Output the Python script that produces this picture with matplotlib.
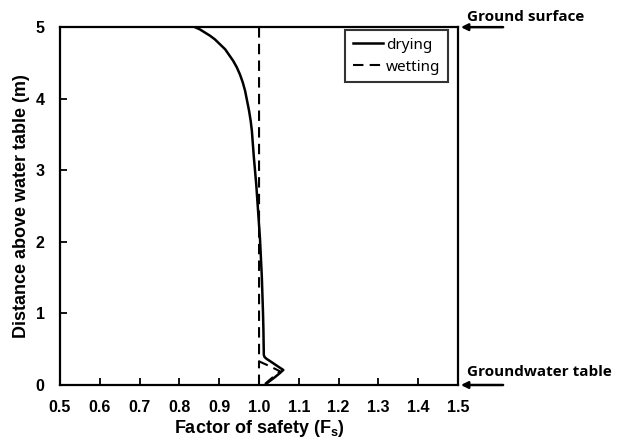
import matplotlib
matplotlib.use("Agg")
import matplotlib.pyplot as plt
import numpy as np

# Drying curve (factor of safety vs distance above water table)
dry_fs = [0.839, 0.851, 0.864, 0.877, 0.889, 0.902, 0.915, 0.925, 0.935, 0.944, 0.952, 0.959,
          0.965, 0.970, 0.975, 0.979, 0.982, 0.987, 0.993, 0.998, 1.0025, 1.007, 1.010, 1.011,
          1.012, 1.014, 1.019, 1.026, 1.034, 1.046, 1.061, 1.052, 1.040, 1.028, 1.020, 1.015]
dry_z  = [5.00, 4.97, 4.925, 4.88, 4.83, 4.76, 4.69, 4.61, 4.53, 4.44, 4.34, 4.23,
          4.11, 3.97, 3.83, 3.69, 3.55, 3.18, 2.80, 2.40, 2.03, 1.51, 1.00, 0.77,
          0.42, 0.39, 0.365, 0.34, 0.31, 0.265, 0.21, 0.165, 0.11, 0.06, 0.025, 0.0]

# Wetting curve
wet_fs = [1.0, 1.0, 1.0, 1.028, 1.053, 1.035, 1.02, 1.012]
wet_z  = [5.0, 0.40, 0.33, 0.26, 0.19, 0.11, 0.04, 0.0]

xticks = [0.5, 0.6, 0.7, 0.8, 0.9, 1.0, 1.1, 1.2, 1.3, 1.4, 1.5]
yticks = [0, 1, 2, 3, 4, 5]

fig = plt.figure(figsize=(6.26, 4.38), dpi=100)
ax = fig.add_axes([0.0958, 0.121, 0.636, 0.817])

ax.plot(dry_fs, dry_z, color="black", lw=1.8, ls="-", label="drying")
ax.plot(wet_fs, wet_z, color="black", lw=1.5, ls=(0, (5, 3)), label="wetting")
ax.plot([wet_fs[0], wet_fs[0]], [wet_z[-1], wet_z[2]], color="black", lw=1.5, ls=(0, (5, 3)))

ax.set_xlim(0.5, 1.5)
ax.set_ylim(0, 5)
ax.set_xticks(xticks)
ax.set_yticks(yticks)
ax.set_xticklabels([f"{t:.1f}" for t in xticks])
ax.set_yticklabels([str(t) for t in yticks])
ax.tick_params(direction="in", length=5, width=1.3, labelsize=11.5, top=False, right=False)
for lbl in ax.get_xticklabels() + ax.get_yticklabels():
    lbl.set_fontfamily("Liberation Sans")
    lbl.set_fontweight("bold")
ax.tick_params(axis="x", pad=11)
ax.tick_params(axis="y", pad=11)
for s in ax.spines.values():
    s.set_linewidth(1.6)

ax.set_xlabel("Factor of safety (F$_\\mathregular{s}$)", fontsize=13, fontweight="bold",
              fontfamily="Liberation Sans", labelpad=2)
ax.set_ylabel("Distance above water table (m)", fontsize=13, fontweight="bold",
              fontfamily="Liberation Sans", labelpad=4)

leg = ax.legend(loc="upper right", bbox_to_anchor=(0.975, 0.992), borderaxespad=0,
                prop={"family": "Noto Sans", "size": 11}, frameon=True, fancybox=False,
                handlelength=2.0, handletextpad=0.2, borderpad=0.5, labelspacing=0.45)
leg.get_frame().set_edgecolor("black")
leg.get_frame().set_linewidth(1.5)

# annotations on the right
ax.annotate("", xy=(1.5, 5), xytext=(1.62, 5), xycoords="data", textcoords="data",
            arrowprops=dict(arrowstyle="-|>", color="black", lw=1.8, mutation_scale=10),
            annotation_clip=False)
ax.annotate("", xy=(1.5, 0), xytext=(1.62, 0), xycoords="data", textcoords="data",
            arrowprops=dict(arrowstyle="-|>", color="black", lw=1.8, mutation_scale=10),
            annotation_clip=False)
ax.text(1.523, 5.04, "Ground surface", fontsize=11, fontweight="bold",
        fontfamily="Open Sans", ha="left", va="bottom", clip_on=False)
ax.text(1.523, 0.08, "Groundwater table", fontsize=11, fontweight="bold",
        fontfamily="Open Sans", ha="left", va="bottom", clip_on=False)

fig.savefig("out.png", dpi=100)
